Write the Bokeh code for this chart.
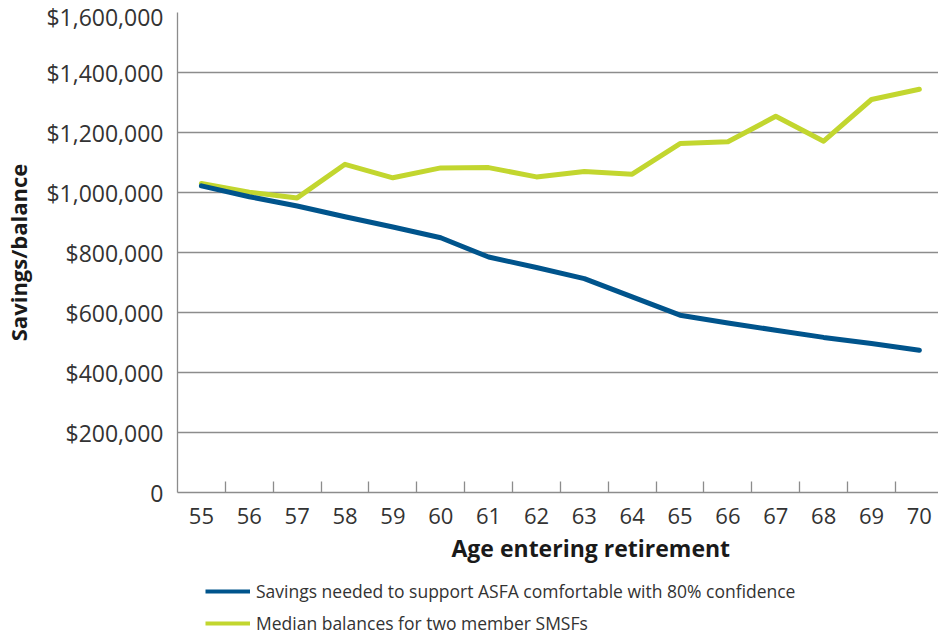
from bokeh.plotting import figure
from bokeh.layouts import column
from bokeh.models import (Range1d, FixedTicker, NumeralTickFormatter, Legend, LegendItem, Title)
from bokeh.embed import file_html
from bokeh.resources import INLINE

# ---- data ----
ages = [55, 56, 57, 58, 59, 60, 61, 62, 63, 64, 65, 66, 67, 68, 69, 70]
savings_needed = [1022000, 986000, 955000, 919000, 885000, 849000, 785000, 750000,
                  713000, 652000, 591000, 565000, 541000, 517000, 497000, 474000]
median_balances = [1030000, 1001000, 982000, 1094000, 1049000, 1082000, 1083000, 1052000,
                   1070000, 1061000, 1163000, 1169000, 1254000, 1171000, 1310000, 1344000]
y_ticks = [0, 200000, 400000, 600000, 800000, 1000000, 1200000, 1400000, 1600000]
series_names = ["Savings needed to support ASFA comfortable with 80% confidence",
                "Median balances for two member SMSFs"]
x_title = "Age entering retirement"
y_title = "Savings/balance"

BLUE = "#00548C"
GREEN = "#C2D62F"
GRID = "#8C8C8C"
FONT = "Open Sans"

W = 938
H_MAIN, H_LEG = 578, 57
LEFT, TOP = 177, 12
BOTTOM = H_MAIN - 492

p = figure(width=W, height=H_MAIN, output_backend="svg", toolbar_location=None,
           x_range=Range1d(ages[0] - 0.5, 70.4), y_range=Range1d(0, y_ticks[-1]),
           min_border_left=LEFT, min_border_right=0, min_border_top=TOP,
           min_border_bottom=BOTTOM)
p.outline_line_color = None
p.background_fill_color = "white"
p.border_fill_color = "white"

# grid
p.xgrid.grid_line_color = None
p.ygrid.ticker = FixedTicker(ticks=y_ticks)
p.ygrid.grid_line_color = GRID
p.ygrid.grid_line_width = 1.3

# x axis
xa = p.xaxis[0]
xa.ticker = FixedTicker(ticks=ages, minor_ticks=[a + 0.5 for a in ages[:-1]])
xa.major_tick_in = 0
xa.major_tick_out = 0
xa.minor_tick_in = 11
xa.minor_tick_out = 0
xa.minor_tick_line_color = GRID
xa.minor_tick_line_width = 1.3
xa.axis_line_color = GRID
xa.axis_line_width = 1.3
xa.major_label_text_font = FONT
xa.major_label_text_font_size = "22px"
xa.major_label_text_color = "#333333"
xa.major_label_standoff = 15

# y axis
ya = p.yaxis[0]
ya.ticker = FixedTicker(ticks=y_ticks)
ya.formatter = NumeralTickFormatter(format="$0,0")
ya.major_label_overrides = {0: "0"}
ya.major_tick_in = 0
ya.major_tick_out = 0
ya.minor_tick_line_color = None
ya.axis_line_color = GRID
ya.axis_line_width = 1.3
ya.major_label_text_font = FONT
ya.major_label_text_font_size = "23px"
ya.major_label_text_color = "#333333"
ya.major_label_standoff = 14
ya.axis_label = y_title
ya.axis_label_text_font = FONT
ya.axis_label_text_font_size = "22px"
ya.axis_label_text_font_style = "bold"
ya.axis_label_text_color = "#1a1a1a"
ya.axis_label_standoff = 10

# x title
p.add_layout(Title(text=x_title, align="left", offset=274, text_font=FONT,
                   text_font_size="23px", text_font_style="bold",
                   text_color="#1a1a1a", standoff=10, vertical_align="top"), "below")

# lines
p.line(ages, median_balances, line_color=GREEN, line_width=5,
       line_cap="round", line_join="round")
p.line(ages, savings_needed, line_color=BLUE, line_width=5,
       line_cap="round", line_join="round")

# legend strip below the chart (series drawn outside its visible range)
q = figure(width=W, height=H_LEG, output_backend="svg", toolbar_location=None,
           x_range=Range1d(0, 1), y_range=Range1d(0, 1),
           x_axis_location=None, y_axis_location=None,
           min_border_left=LEFT, min_border_right=0, min_border_top=0, min_border_bottom=0)
q.outline_line_color = None
q.xgrid.grid_line_color = None
q.ygrid.grid_line_color = None
lb = q.line(ages, savings_needed, line_color=BLUE, line_width=4)
lg = q.line(ages, median_balances, line_color=GREEN, line_width=4)
legend = Legend(items=[LegendItem(label=series_names[0], renderers=[lb]),
                       LegendItem(label=series_names[1], renderers=[lg])],
                location=(28, 0), orientation="vertical",
                border_line_color=None, background_fill_alpha=0,
                padding=0, margin=0, spacing=8, glyph_width=45, glyph_height=18,
                label_height=18, label_standoff=6,
                label_text_font=FONT, label_text_font_size="17.5px",
                label_text_color="#333333")
q.add_layout(legend, "center")

open("out.html", "w").write(file_html(column(p, q, spacing=0), INLINE))
